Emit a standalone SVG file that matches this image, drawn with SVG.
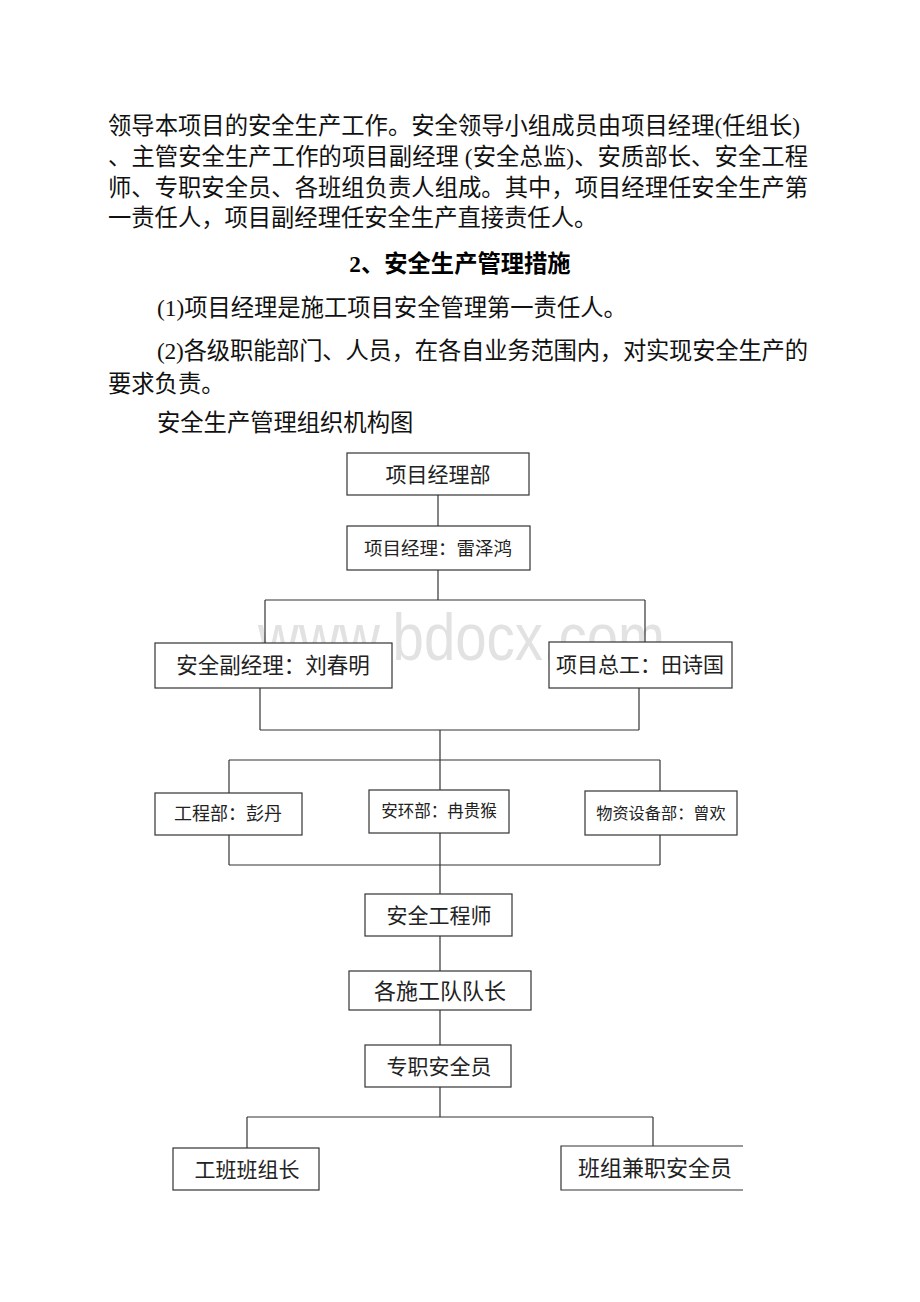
<svg xmlns="http://www.w3.org/2000/svg" width="920" height="1302" viewBox="0 0 920 1302">
<style>
.p{font-family:"Liberation Serif","Noto Sans CJK SC",serif;font-size:23.3px;fill:#111}
.h{font-family:"Liberation Serif","Noto Sans CJK SC",serif;font-size:23.3px;font-weight:bold;fill:#000}
.box rect{fill:#fff;stroke:#333;stroke-width:1.2}
.box text{font-family:"Liberation Serif","Noto Sans CJK SC",serif;fill:#222;text-anchor:middle}
.wm{font-family:"Liberation Sans",Arial,sans-serif;font-size:66px;fill:#e2e2e2}
#connectors line{stroke:#333;stroke-width:1.2}
</style>
<rect width="920" height="1302" fill="#fff"/>
<g id="text">
<text class="p" x="108" y="134" textLength="692" lengthAdjust="spacing">领导本项目的安全生产工作。安全领导小组成员由项目经理(任组长)</text>
<text class="p" x="108" y="165" textLength="700" lengthAdjust="spacing">、主管安全生产工作的项目副经理 (安全总监)、安质部长、安全工程</text>
<text class="p" x="108" y="196" textLength="700" lengthAdjust="spacing">师、专职安全员、各班组负责人组成。其中，项目经理任安全生产第</text>
<text class="p" x="108" y="226">一责任人，项目副经理任安全生产直接责任人。</text>
<text class="h" x="460" y="272" text-anchor="middle">2、安全生产管理措施</text>
<text class="p" x="157" y="316">(1)项目经理是施工项目安全管理第一责任人。</text>
<text class="p" x="157" y="359" textLength="651" lengthAdjust="spacing">(2)各级职能部门、人员，在各自业务范围内，对实现安全生产的</text>
<text class="p" x="108" y="392">要求负责。</text>
<text class="p" x="157" y="431">安全生产管理组织机构图</text>
</g>
<text class="wm" x="258" y="660" textLength="407" lengthAdjust="spacingAndGlyphs">www.bdocx.com</text>
<g id="connectors">
<line x1="438" y1="495" x2="438" y2="526"/>
<line x1="438" y1="570" x2="438" y2="600"/>
<line x1="265" y1="600" x2="645" y2="600"/>
<line x1="265" y1="600" x2="265" y2="643"/>
<line x1="645" y1="600" x2="645" y2="642"/>
<line x1="260" y1="688" x2="260" y2="730"/>
<line x1="639" y1="688" x2="639" y2="730"/>
<line x1="260" y1="730" x2="639" y2="730"/>
<line x1="440" y1="730" x2="440" y2="790"/>
<line x1="229" y1="760" x2="660" y2="760"/>
<line x1="229" y1="760" x2="229" y2="793"/>
<line x1="660" y1="760" x2="660" y2="791"/>
<line x1="229" y1="835" x2="229" y2="865"/>
<line x1="660" y1="835" x2="660" y2="865"/>
<line x1="229" y1="865" x2="660" y2="865"/>
<line x1="440" y1="833" x2="440" y2="894"/>
<line x1="440" y1="936" x2="440" y2="971"/>
<line x1="440" y1="1010" x2="440" y2="1045"/>
<line x1="440" y1="1087" x2="440" y2="1117"/>
<line x1="247" y1="1117" x2="653" y2="1117"/>
<line x1="247" y1="1117" x2="247" y2="1148"/>
<line x1="653" y1="1117" x2="653" y2="1146"/>
</g>
<g id="n1" class="box"><rect x="347" y="453" width="182" height="42"/><text x="438" y="482" font-size="21">项目经理部</text></g>
<g id="n2" class="box"><rect x="347" y="526" width="183" height="44"/><text x="438" y="555" font-size="18.5">项目经理：雷泽鸿</text></g>
<g id="n3" class="box"><rect x="155" y="643" width="237" height="45"/><text x="273" y="673" font-size="21.5">安全副经理：刘春明</text></g>
<g id="n4" class="box"><rect x="549" y="642" width="183" height="46"/><text x="640" y="672" font-size="21">项目总工：田诗国</text></g>
<g id="n5" class="box"><rect x="155" y="793" width="147" height="42"/><text x="228" y="820" font-size="18">工程部：彭丹</text></g>
<g id="n6" class="box"><rect x="369" y="790" width="140" height="43"/><text x="439" y="817" font-size="16.5">安环部：冉贵猴</text></g>
<g id="n7" class="box"><rect x="585" y="791" width="152" height="44"/><text x="661" y="819" font-size="16.2">物资设备部：曾欢</text></g>
<g id="n8" class="box"><rect x="365" y="894" width="147" height="42"/><text x="439" y="923" font-size="21">安全工程师</text></g>
<g id="n9" class="box"><rect x="349" y="971" width="182" height="39"/><text x="440" y="999" font-size="22">各施工队队长</text></g>
<g id="n10" class="box"><rect x="365" y="1045" width="146" height="42"/><text x="439" y="1074" font-size="21">专职安全员</text></g>
<g id="n11" class="box"><rect x="173" y="1148" width="146" height="42"/><text x="247" y="1177" font-size="21">工班班组长</text></g>
<g id="n12" class="box"><rect x="561" y="1146" width="200" height="44" style="stroke:none"/><path d="M743 1146 H561 V1190 H743" fill="none" stroke="#333" stroke-width="1.2"/><text x="655" y="1176" font-size="22">班组兼职安全员</text></g>
</svg>
